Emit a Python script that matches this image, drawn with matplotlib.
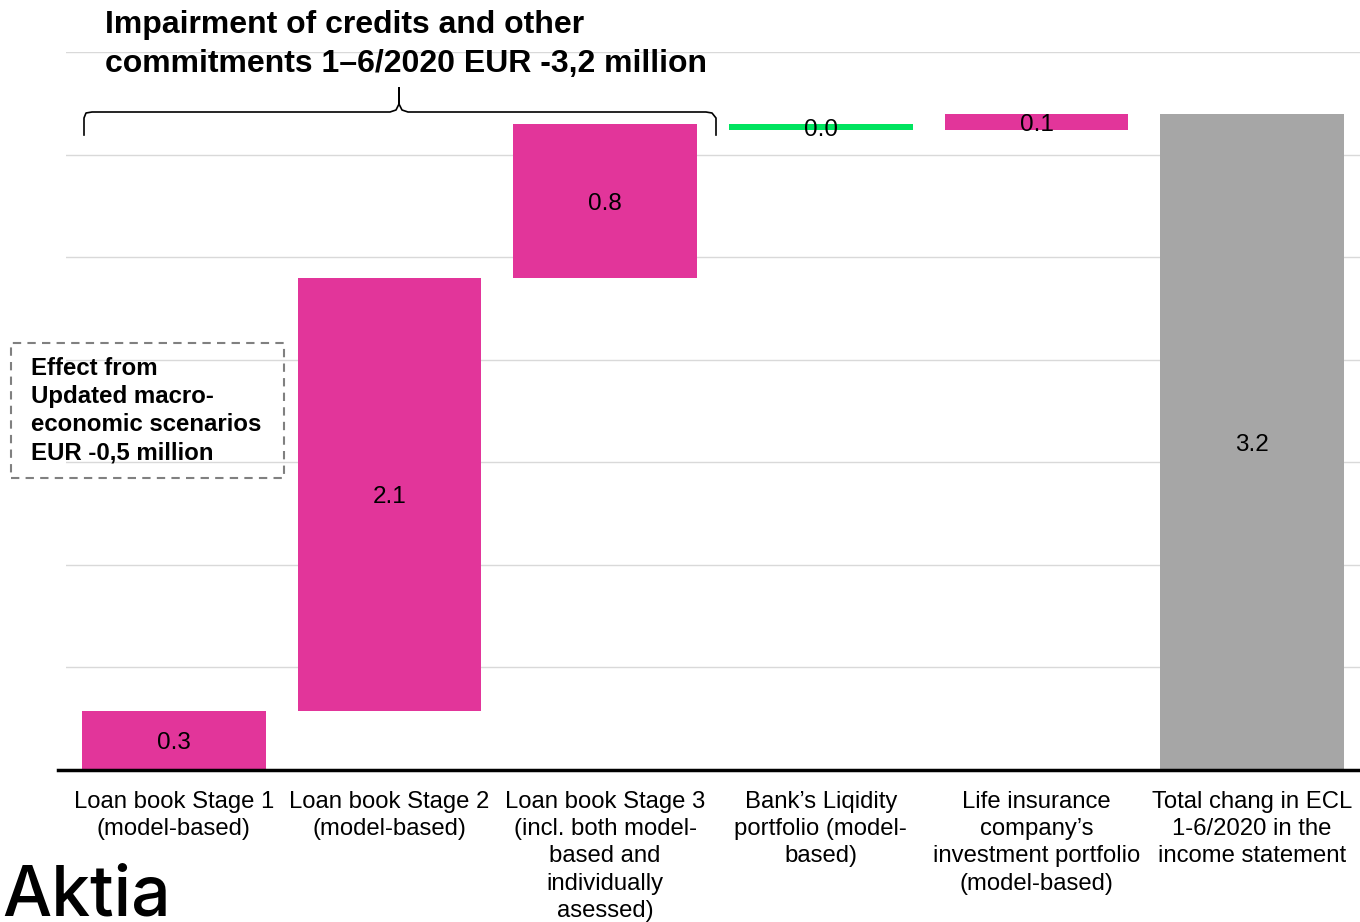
import matplotlib
matplotlib.use("Agg")
import matplotlib.pyplot as plt
from matplotlib.lines import Line2D
from matplotlib.patches import Rectangle

plt.rcParams['font.family'] = ['Liberation Sans', 'DejaVu Sans']

# data
categories = [
    "Loan book Stage 1\n(model-based)",
    "Loan book Stage 2\n(model-based)",
    "Loan book Stage 3\n(incl. both model-\nbased and\nindividually\nasessed)",
    "Bank\u2019s Liqidity\nportfolio (model-\nbased)",
    "Life insurance\ncompany\u2019s\ninvestment portfolio\n(model-based)",
    "Total chang in ECL\n1-6/2020 in the\nincome statement",
]
changes = [0.29, 2.11, 0.75, -0.03, 0.08]
total = 3.2

PINK = "#E2359A"
GREEN = "#00E45F"
GREY = "#A6A6A6"

W, H = 1360, 922
fig = plt.figure(figsize=(W / 100, H / 100), dpi=100)
ax = fig.add_axes([66 / W, 1 - 770 / H, 1 - 66 / W, (770 - 52) / H])

# waterfall bars
bottoms, heights, colors = [], [], []
run = 0.0
for v in changes:
    if v >= 0:
        bottoms.append(run)
        heights.append(v)
        colors.append(PINK)
    else:
        bottoms.append(run + v)
        heights.append(-v)
        colors.append(GREEN)
    run += v
bottoms.append(0)
heights.append(total)
colors.append(GREY)

x = list(range(len(categories)))
ax.bar(x, heights, bottom=bottoms, width=0.853, color=colors, zorder=2)

labels = [abs(v) for v in changes] + [total]
for xi, b, h, lab in zip(x, bottoms, heights, labels):
    ax.annotate(f"{lab:.1f}", (xi, b + h / 2), xytext=(0, -2),
                textcoords='offset points', ha='center', va='center',
                fontsize=17.5, color='black', zorder=3)

ax.set_xlim(-0.5, 5.5)
ax.set_ylim(0, 3.5)
ax.set_yticks([0.5 * i for i in range(8)])
ax.yaxis.grid(True, color='#d9d9d9', lw=1, zorder=0)
ax.set_axisbelow(True)
ax.tick_params(axis='y', left=False, labelleft=False)
ax.tick_params(axis='x', length=0, pad=15)
ax.set_xticks(x)
ax.set_xticklabels(categories, fontsize=17.2, linespacing=1.31)
for s in ax.spines.values():
    s.set_visible(False)

# baseline
fig.add_artist(Line2D([58 / W, 1], [1 - 770 / H] * 2, color='black', lw=2.5))

# title
fig.text(105 / W, 1 - 10 / H,
         "Impairment of credits and other\ncommitments 1\u20136/2020 EUR -3,2 million",
         ha='left', va='top', fontsize=23, fontweight='bold', linespacing=1.37)

# curly brace over first three bars
def fp(px, py):
    return px / W, 1 - py / H

bx = [84, 84, 86, 92, 390, 396, 399, 399, 399, 402, 408, 706, 712, 716, 716]
by = [135, 118, 113, 112, 112, 110, 104, 88, 104, 110, 112, 112, 113, 118, 135]
pts = [fp(a, b) for a, b in zip(bx, by)]
fig.add_artist(Line2D([p[0] for p in pts], [p[1] for p in pts], color='black', lw=1.2))

# dashed note box
fig.add_artist(Rectangle(fp(11, 478), 273 / W, 135 / H, fill=False,
                         edgecolor='#808080', lw=1.5, ls=(0, (4, 3)),
                         transform=fig.transFigure))
fig.text(31 / W, 1 - 357 / H,
         "Effect from\nUpdated macro-\neconomic scenarios\nEUR -0,5 million",
         ha='left', va='top', fontsize=17.3, fontweight='bold', linespacing=1.29)

# logo
fig.text(2 / W, 1 - 915 / H, "Aktia", ha='left', va='baseline',
         fontsize=50, fontfamily='Inter', fontweight='medium', color='black')

fig.savefig("out.png", dpi=100)
